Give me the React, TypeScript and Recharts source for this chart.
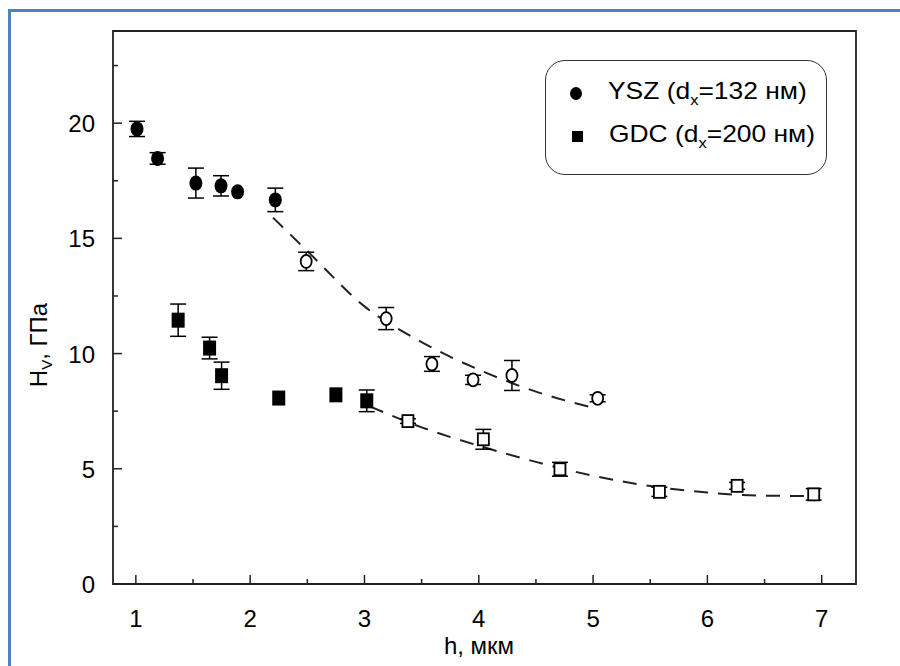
import React from 'react';
import { ComposedChart, Scatter, Line, XAxis, YAxis, ErrorBar, ReferenceArea } from 'recharts';

// YSZ (dx = 132 nm): filled points, then open points on the fitted dashed curve
const yszFilled = [
  { x: 1.01, y: 19.75, err: 0.33 },
  { x: 1.19, y: 18.47, err: 0.25 },
  { x: 1.525, y: 17.4, err: 0.65 },
  { x: 1.745, y: 17.28, err: 0.44 },
  { x: 1.89, y: 17.02, err: 0 },
  { x: 2.22, y: 16.67, err: 0.51 },
];
const yszOpen = [
  { x: 2.49, y: 14.0, err: 0.4 },
  { x: 3.19, y: 11.52, err: 0.48 },
  { x: 3.59, y: 9.55, err: 0.32 },
  { x: 3.95, y: 8.86, err: 0.2 },
  { x: 4.29, y: 9.05, err: 0.65 },
  { x: 5.04, y: 8.06, err: 0.15 },
];
const yszCurve = [
  { x: 2.2, y: 15.9 },
  { x: 2.5, y: 14.45 },
  { x: 3.0, y: 12.05 },
  { x: 3.5, y: 10.5 },
  { x: 4.0, y: 9.3 },
  { x: 4.5, y: 8.35 },
  { x: 5.0, y: 7.65 },
];

// GDC (dx = 200 nm)
const gdcFilled = [
  { x: 1.37, y: 11.45, err: 0.7 },
  { x: 1.645, y: 10.24, err: 0.47 },
  { x: 1.75, y: 9.04, err: 0.59 },
  { x: 2.25, y: 8.07, err: 0 },
  { x: 2.75, y: 8.21, err: 0 },
  { x: 3.02, y: 7.95, err: 0.47 },
];
const gdcOpen = [
  { x: 3.38, y: 7.07, err: 0.1 },
  { x: 4.04, y: 6.28, err: 0.43 },
  { x: 4.71, y: 4.98, err: 0.3 },
  { x: 5.58, y: 4.0, err: 0.2 },
  { x: 6.26, y: 4.26, err: 0.15 },
  { x: 6.93, y: 3.89, err: 0.25 },
];
const gdcCurve = [
  { x: 3.05, y: 7.7 },
  { x: 3.5, y: 6.8 },
  { x: 4.0, y: 6.0 },
  { x: 4.5, y: 5.3 },
  { x: 5.0, y: 4.7 },
  { x: 5.5, y: 4.25 },
  { x: 6.0, y: 3.97 },
  { x: 6.5, y: 3.83 },
  { x: 6.95, y: 3.82 },
];

const xDomain = [0.8, 7.3];
const yDomain = [0, 24];
const xTicks = [1, 1.5, 2, 2.5, 3, 3.5, 4, 4.5, 5, 5.5, 6, 6.5, 7];
const yTicks = [0, 2.5, 5, 7.5, 10, 12.5, 15, 17.5, 20, 22.5];

const FONT = '"Liberation Sans", Arial, sans-serif';

const XTick = (props: any) => {
  const { x, y, payload } = props;
  const major = Number.isInteger(payload.value);
  return (
    <g>
      <line x1={x} x2={x} y1={y} y2={y - (major ? 9 : 5)} stroke="#222" strokeWidth={1.5} />
      {major && (
        <text x={x} y={y + 43} textAnchor="middle" fontSize={24} fontFamily={FONT} fill="#000">
          {payload.value}
        </text>
      )}
    </g>
  );
};

const YTick = (props: any) => {
  const { x, y, payload } = props;
  const major = payload.value % 5 === 0;
  return (
    <g>
      <line x1={x} x2={x + (major ? 9 : 5)} y1={y} y2={y} stroke="#222" strokeWidth={1.5} />
      {major && (
        <text x={x - 18} y={y + 9} textAnchor="end" fontSize={24} fontFamily={FONT} fill="#000">
          {payload.value}
        </text>
      )}
    </g>
  );
};

const FilledCircle = (p: any) => <ellipse cx={p.cx} cy={p.cy} rx={6.5} ry={7.5} fill="#000" />;
const OpenCircle = (p: any) => (
  <ellipse cx={p.cx} cy={p.cy} rx={5.5} ry={6.5} fill="#fff" stroke="#000" strokeWidth={1.8} />
);
const FilledSquare = (p: any) => <rect x={p.cx - 6.5} y={p.cy - 7.5} width={13} height={15} fill="#000" />;
const OpenSquare = (p: any) => (
  <rect x={p.cx - 5.5} y={p.cy - 6} width={11} height={12} fill="#fff" stroke="#000" strokeWidth={1.8} />
);

const err = <ErrorBar dataKey="err" direction="y" width={8} stroke="#000" strokeWidth={1.5} />;

export default function App() {
  return (
    <div style={{ position: 'absolute', left: 0, top: 0, width: 900, height: 666, background: '#fff', overflow: 'hidden' }}>
      <div style={{ position: 'absolute', left: 8, top: 9, width: 900, height: 700, borderLeft: '3px solid #4f81bd', borderTop: '3px solid #4f81bd' }} />
      <ComposedChart width={900} height={666} margin={{ top: 31, right: 44, bottom: 52, left: 83 }} style={{ position: 'absolute', left: 0, top: 0 }}>
        <XAxis
          xAxisId="b"
          dataKey="x"
          type="number"
          domain={xDomain}
          ticks={xTicks}
          interval={0}
          tick={<XTick />}
          tickLine={false}
          tickSize={0}
          tickMargin={0}
          height={30}
          axisLine={false}
          allowDataOverflow
        />
        <YAxis
          yAxisId="l"
          type="number"
          domain={yDomain}
          ticks={yTicks}
          interval={0}
          tick={<YTick />}
          tickLine={false}
          tickSize={0}
          tickMargin={0}
          width={30}
          axisLine={false}
          allowDataOverflow
        />
        <ReferenceArea
          xAxisId="b"
          yAxisId="l"
          x1={xDomain[0]}
          x2={xDomain[1]}
          y1={yDomain[0]}
          y2={yDomain[1]}
          fill="none"
          stroke="#222"
          strokeWidth={1.8}
        />

        <Line xAxisId="b" yAxisId="l" data={yszCurve} dataKey="y" type="monotone" stroke="#222" strokeWidth={2} strokeDasharray="14 10" dot={false} isAnimationActive={false} />
        <Line xAxisId="b" yAxisId="l" data={gdcCurve} dataKey="y" type="monotone" stroke="#222" strokeWidth={2} strokeDasharray="14 10" dot={false} isAnimationActive={false} />

        <Scatter xAxisId="b" yAxisId="l" data={yszFilled} dataKey="y" shape={FilledCircle} isAnimationActive={false}>{err}</Scatter>
        <Scatter xAxisId="b" yAxisId="l" data={yszOpen} dataKey="y" shape={OpenCircle} isAnimationActive={false}>{err}</Scatter>
        <Scatter xAxisId="b" yAxisId="l" data={gdcFilled} dataKey="y" shape={FilledSquare} isAnimationActive={false}>{err}</Scatter>
        <Scatter xAxisId="b" yAxisId="l" data={gdcOpen} dataKey="y" shape={OpenSquare} isAnimationActive={false}>{err}</Scatter>
      </ComposedChart>

      {/* legend */}
      <div style={{ position: 'absolute', left: 545, top: 60, width: 280, height: 113, border: '1.5px solid #333', borderRadius: 20, fontFamily: FONT, fontSize: 24, color: '#000', background: '#fff' }}>
        <div style={{ position: 'absolute', left: 24, top: 26, width: 12, height: 13, borderRadius: '50%', background: '#000' }} />
        <div style={{ position: 'absolute', left: 62, top: 16, whiteSpace: 'nowrap', transform: 'scaleX(1.1)', transformOrigin: 'left' }}>
          YSZ (d<sub style={{ fontSize: 15 }}>x</sub>=132 нм)
        </div>
        <div style={{ position: 'absolute', left: 26, top: 70, width: 11, height: 11, background: '#000' }} />
        <div style={{ position: 'absolute', left: 63, top: 59, whiteSpace: 'nowrap', transform: 'scaleX(1.1)', transformOrigin: 'left' }}>
          GDC (d<sub style={{ fontSize: 15 }}>x</sub>=200 нм)
        </div>
      </div>

      {/* axis titles */}
      <div style={{ position: 'absolute', left: 479, top: 632, transform: 'translateX(-50%)', fontFamily: FONT, fontSize: 24, whiteSpace: 'nowrap' }}>
        h, мкм
      </div>
      <div style={{ position: 'absolute', left: 40, top: 345, transform: 'translate(-50%, -50%) rotate(-90deg)', fontFamily: FONT, fontSize: 24, whiteSpace: 'nowrap' }}>
        H<sub style={{ fontSize: 15 }}>V</sub>, ГПа
      </div>
    </div>
  );
}
